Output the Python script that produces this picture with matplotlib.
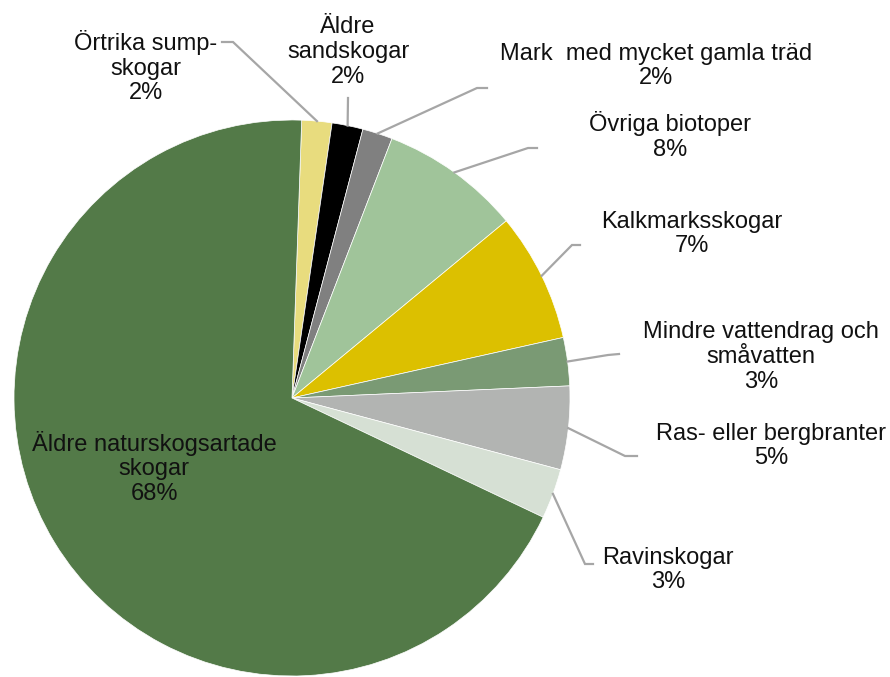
import numpy as np
import matplotlib
matplotlib.use('Agg')
import matplotlib.pyplot as plt

W, H = 890, 677

# slices, clockwise from just right of 12 o'clock
categories = ['Örtrika sump-\nskogar', 'Äldre\nsandskogar', 'Mark  med mycket gamla träd',
              'Övriga biotoper', 'Kalkmarksskogar', 'Mindre vattendrag och\nsmåvatten',
              'Ras- eller bergbranter', 'Ravinskogar', 'Äldre naturskogsartade\nskogar']
values = [1.75, 1.8, 1.75, 8.15, 7.5, 2.8, 4.85, 2.9, 68.5]
pct_labels = ['2%', '2%', '2%', '8%', '7%', '3%', '5%', '3%', '68%']
colors = ['#E8DC7E', '#000000', '#808080', '#A0C49A', '#DCC000',
          '#7A9A74', '#B2B4B2', '#D6E0D4', '#537A48']

# layout (pixel coords, y from top)
label_pos = [(146, 67), (348, 52), (656, 66), (670, 136), (692, 234),
             (761, 357), (771, 446), (668, 570), (154, 468)]
# leader: start point near text, elbow point; None = no leader
leaders = [((222, 42), (233, 42)), ((348, 98), (348, 98)), ((487, 88), (477, 88)),
           ((537, 148), (528, 148)), ((580, 245), (572, 245)), ((619, 354), (608, 355)),
           ((637, 456), (625, 456)), ((593, 564), (585, 564)), None]

CX, CY, R = 292, 398, 278

plt.rcParams['font.family'] = ['Liberation Sans', 'DejaVu Sans']

fig = plt.figure(figsize=(W / 100, H / 100), dpi=100)
ax = fig.add_axes([0, 0, 1, 1])

wedges, _ = ax.pie(values, colors=colors, startangle=88, counterclock=False,
                   radius=R, center=(CX, H - CY),
                   wedgeprops=dict(edgecolor='white', linewidth=0.5))

for i, w in enumerate(wedges):
    lx, ly = label_pos[i]
    ax.text(lx, H - ly, categories[i] + '\n' + pct_labels[i], ha='center', va='center',
            fontsize=17, color='#111111', linespacing=1.17)
    if leaders[i] is None:
        continue
    mid = np.deg2rad((w.theta1 + w.theta2) / 2)
    ex, ey = CX + R * np.cos(mid), (H - CY) + R * np.sin(mid)
    (sx, sy), (kx, ky) = leaders[i]
    ax.plot([sx, kx, ex], [H - sy, H - ky, ey], color='#A6A6A6', lw=1.6,
            solid_joinstyle='miter')

ax.set_xlim(0, W)
ax.set_ylim(0, H)
ax.set_aspect('equal')
ax.axis('off')

fig.savefig('out.png', dpi=100, facecolor='white')
